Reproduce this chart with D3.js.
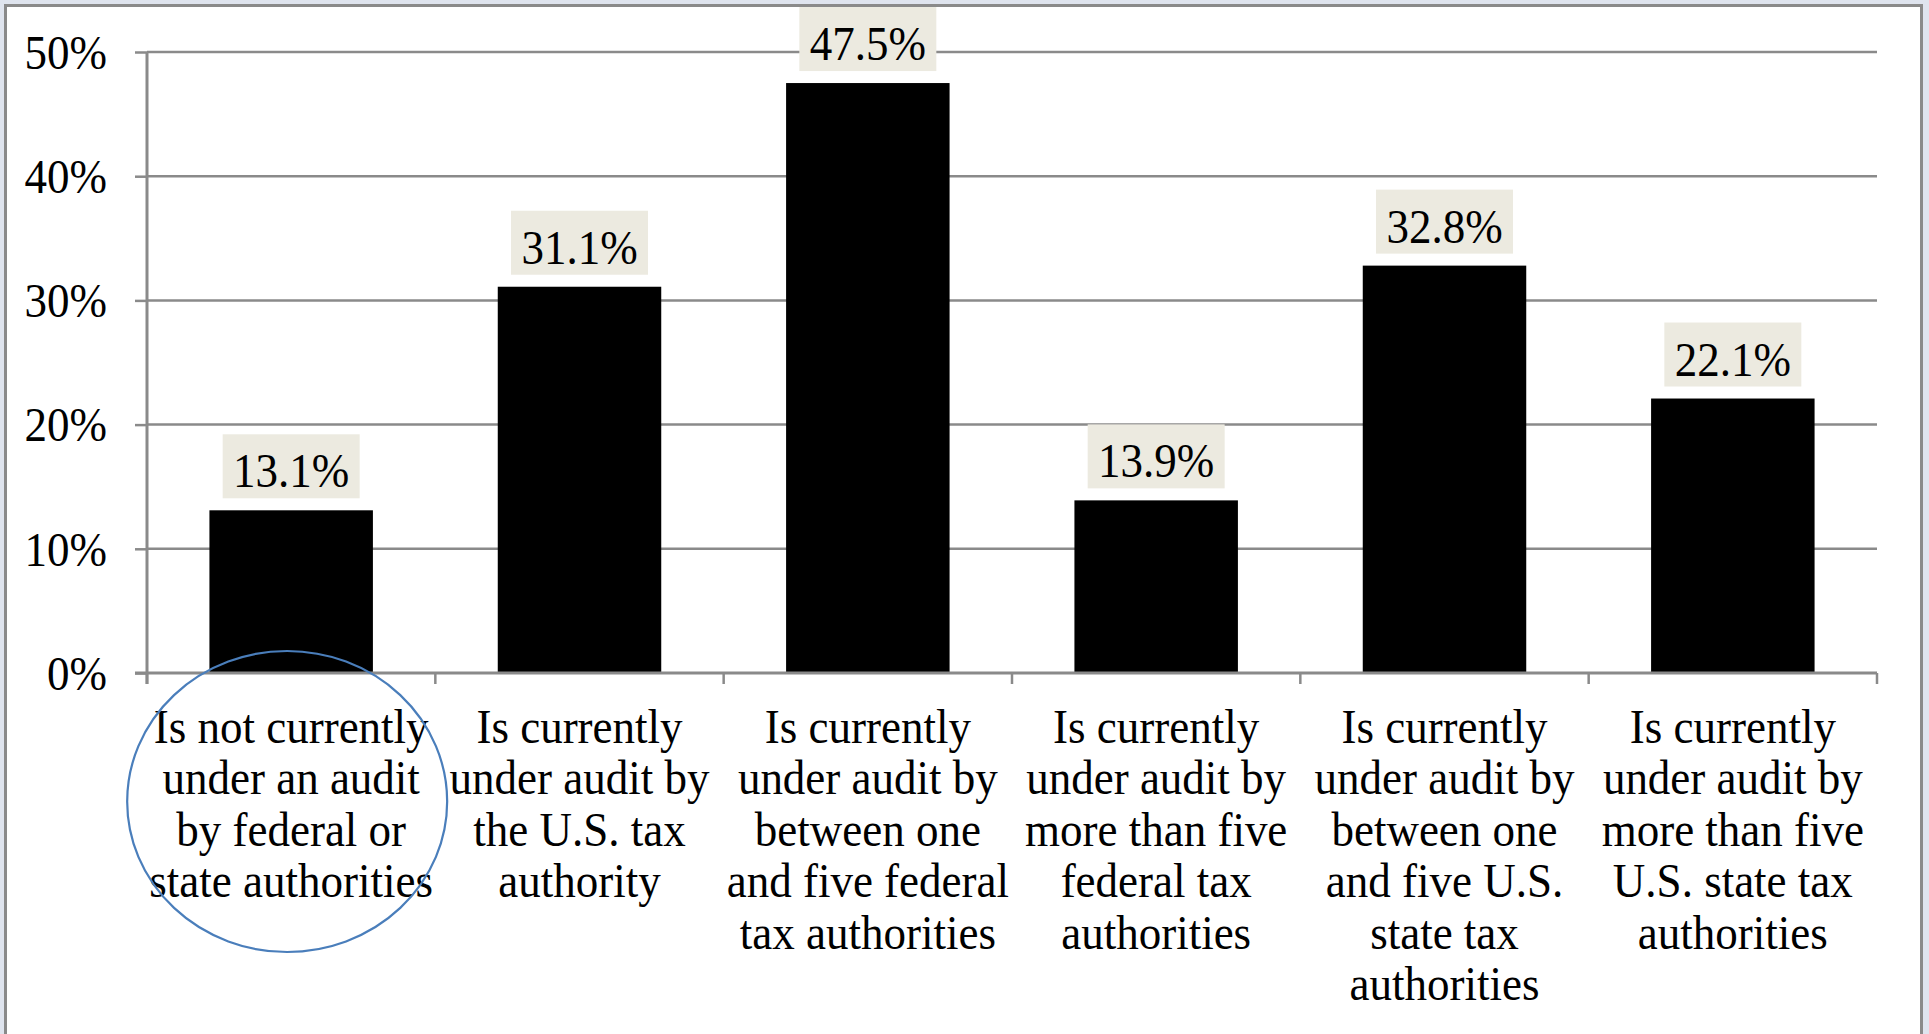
<!DOCTYPE html>
<html>
<head>
<meta charset="utf-8">
<script src="https://cdn.jsdelivr.net/npm/d3@7"></script>
<style>
  html, body { margin: 0; padding: 0; background: #dfe4ee; }
  svg { display: block; }
</style>
</head>
<body>
<svg id="graphique" width="1929" height="1034"></svg>
<script>
// audit status categories, one wrapped label per bar
var categories = [
  ["Is not currently", "under an audit", "by federal or", "state authorities"],
  ["Is currently", "under audit by", "the U.S. tax", "authority"],
  ["Is currently", "under audit by", "between one", "and five federal", "tax authorities"],
  ["Is currently", "under audit by", "more than five", "federal tax", "authorities"],
  ["Is currently", "under audit by", "between one", "and five U.S.", "state tax", "authorities"],
  ["Is currently", "under audit by", "more than five", "U.S. state tax", "authorities"]
];
var taux = [13.1, 31.1, 47.5, 13.9, 32.8, 22.1];
var ticksY = [0, 10, 20, 30, 40, 50];

var WIDTH = 1929;
var HEIGHT = 1034;
var MARGINS = { top: 52, right: 52, bottom: 361, left: 147 };
var police = "'Liberation Serif', 'Times New Roman', serif";
var gris = "#8a8a8a";
var etire = 1.07; // la police d'origine est un peu plus haute
var interligne = 51.5;

var graphique = d3.select("#graphique");

// cadre blanc
graphique.append("rect")
  .attr("x", 5.5).attr("y", 5.5)
  .attr("width", 1916).attr("height", 1040)
  .attr("fill", "#ffffff")
  .attr("stroke", gris)
  .attr("stroke-width", 3);

var ids = categories.map(function(d, i){ return i; });

var xScale = d3.scaleBand()
  .domain(ids)
  .range([MARGINS.left, WIDTH - MARGINS.right])
  .paddingInner(0.433)
  .paddingOuter(0.2165);

var xCat = d3.scaleBand()
  .domain(ids)
  .range([MARGINS.left, WIDTH - MARGINS.right]);

var yScale = d3.scaleLinear()
  .domain([0, 50])
  .range([HEIGHT - MARGINS.bottom, MARGINS.top]);

//// lignes de grille
graphique.append("g")
  .selectAll("line")
  .data(ticksY.filter(function(t){ return t > 0; }))
  .enter().append("line")
  .attr("x1", MARGINS.left)
  .attr("x2", WIDTH - MARGINS.right)
  .attr("y1", function(d){ return yScale(d); })
  .attr("y2", function(d){ return yScale(d); })
  .attr("stroke", gris)
  .attr("stroke-width", 2.5);

//// axe Y
var yAxis = d3.axisLeft(yScale)
  .tickValues(ticksY)
  .tickSize(12)
  .tickPadding(28)
  .tickFormat(function(d){ return d + "%"; });

var gy = graphique.append("g")
  .attr("transform", "translate(" + MARGINS.left + ",0)")
  .call(yAxis);
gy.select(".domain").remove();
gy.selectAll(".tick line").attr("stroke", gris).attr("stroke-width", 2.5);
gy.selectAll(".tick text")
  .attr("font-family", police)
  .attr("font-size", 45)
  .attr("fill", "#000")
  .attr("x", null)
  .attr("dy", "0.34em")
  .attr("transform", "translate(-40,0) scale(1," + etire + ")");

graphique.append("line")
  .attr("x1", MARGINS.left).attr("x2", MARGINS.left)
  .attr("y1", yScale(50)).attr("y2", yScale(0) + 11)
  .attr("stroke", gris).attr("stroke-width", 3);

//// barres
graphique.append("g")
  .selectAll("rect")
  .data(taux)
  .enter().append("rect")
  .attr("x", function(d, i){ return xScale(i); })
  .attr("width", xScale.bandwidth())
  .attr("y", function(d){ return yScale(d); })
  .attr("height", function(d){ return yScale(0) - yScale(d); })
  .attr("fill", "#000");

//// axe X avec separateurs de categories
graphique.append("line")
  .attr("x1", MARGINS.left - 12).attr("x2", WIDTH - MARGINS.right)
  .attr("y1", yScale(0)).attr("y2", yScale(0))
  .attr("stroke", gris).attr("stroke-width", 3);

var bornes = ids.map(function(i){ return xCat(i); }).concat([WIDTH - MARGINS.right]);
graphique.append("g")
  .selectAll("line")
  .data(bornes)
  .enter().append("line")
  .attr("x1", function(d){ return d; })
  .attr("x2", function(d){ return d; })
  .attr("y1", yScale(0))
  .attr("y2", yScale(0) + 11)
  .attr("stroke", gris)
  .attr("stroke-width", 2.5);

//// etiquettes des valeurs
var etiquettes = graphique.append("g")
  .selectAll("g")
  .data(taux)
  .enter().append("g")
  .attr("transform", function(d, i){
    return "translate(" + (xScale(i) + xScale.bandwidth() / 2) + "," + (yScale(d) - 12) + ")";
  });

etiquettes.append("rect")
  .attr("x", -68.5)
  .attr("y", -64)
  .attr("width", 137)
  .attr("height", 64)
  .attr("fill", "#eceae0");

etiquettes.append("text")
  .attr("text-anchor", "middle")
  .attr("transform", "translate(0,-11) scale(1," + etire + ")")
  .attr("font-family", police)
  .attr("font-size", 45)
  .attr("fill", "#000")
  .text(function(d){ return d.toFixed(1) + "%"; });

//// libelles des categories
var libelles = graphique.append("g")
  .selectAll("text")
  .data(categories)
  .enter().append("text")
  .attr("text-anchor", "middle")
  .attr("font-family", police)
  .attr("font-size", 45)
  .attr("fill", "#000")
  .attr("transform", function(d, i){
    return "translate(" + (xCat(i) + xCat.bandwidth() / 2) + "," + (yScale(0) + 70) + ") scale(1," + etire + ")";
  });

libelles.selectAll("tspan")
  .data(function(d){ return d; })
  .enter().append("tspan")
  .attr("x", 0)
  .attr("y", function(d, j){ return j * interligne / etire; })
  .text(function(d){ return d; });

//// cercle autour de la premiere categorie
graphique.append("ellipse")
  .attr("cx", xCat(0) + xCat.bandwidth() / 2 - 4)
  .attr("cy", yScale(0) + 128.5)
  .attr("rx", 160)
  .attr("ry", 150.5)
  .attr("fill", "none")
  .attr("stroke", "#4a7ebb")
  .attr("stroke-width", 2.2);
</script>
</body>
</html>
